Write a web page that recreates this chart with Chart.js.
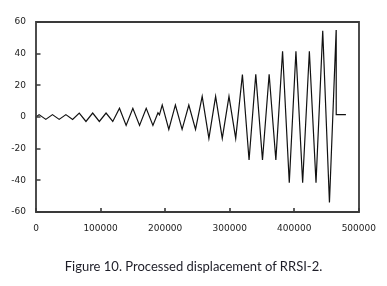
<!DOCTYPE html>
<html>
<head>
<meta charset="utf-8">
<script src="https://cdn.jsdelivr.net/npm/chart.js@4/dist/chart.umd.min.js"></script>
<style>
  html, body { margin: 0; padding: 0; background: #ffffff; }
  #wrap { position: relative; width: 387px; height: 286px; }
  #c { position: absolute; left: 0; top: 0; }
  #caption {
    position: absolute; left: 0; width: 387px; top: 258px;
    text-align: center; font-family: Lato, "Open Sans", sans-serif;
    font-size: 13px; color: #1e1e28; white-space: nowrap;
  }
</style>
</head>
<body>
<div id="wrap">
  <canvas id="c" width="387" height="286"></canvas>
  <div id="caption">Figure 10. Processed displacement of RRSI-2.</div>
</div>
<script>
// Time (x) of each turning point of the displacement record
const time = [
  0, 4800, 15200, 25500, 35900, 46300, 56700,
  67000, 77400, 87800, 98100, 108500, 118900,
  129300, 139600, 150000, 160400, 170700, 181100,
  188900, 191200,
  195500, 205700, 215900, 226300, 236700, 247100,
  257400, 267800, 278200, 288500, 298900, 309300,
  319700, 330000, 340400, 350800, 361100, 371500,
  381900, 392300, 402600, 413000, 423400, 433700,
  444100, 454500, 464900, 465000, 480000
];
// Displacement at each turning point
const displacement = [
  0, 1.5, -1.5, 1.5, -1.5, 1.5, -1.5,
  2.5, -2.8, 2.5, -2.8, 2.5, -2.8,
  5.5, -5.3, 5.5, -5.3, 5.5, -5.3,
  2.7, 1.3,
  7.6, -7.8, 7.6, -7.8, 7.6, -7.8,
  13, -13.5, 13, -13.5, 13, -13.5,
  26.8, -27.2, 27, -27.2, 27, -27.2,
  41.5, -41.5, 41.5, -41.5, 41.5, -41.5,
  54.5, -54, 55, 1.5, 1.5
];
const xTicks = [0, 100000, 200000, 300000, 400000, 500000];
const yTicks = [-60, -40, -20, 0, 20, 40, 60];

const points = time.map((t, i) => ({ x: t, y: displacement[i] }));

const framePlugin = {
  id: 'plotFrame',
  afterDraw(chart) {
    const ctx = chart.ctx;
    const a = chart.chartArea;
    const sx = chart.scales.x, sy = chart.scales.y;
    const L = Math.round(a.left), R = Math.round(a.right);
    const T = Math.round(a.top), B = Math.round(a.bottom);
    ctx.save();
    ctx.strokeStyle = '#3a3a3a';
    ctx.lineWidth = 1.8;
    ctx.lineCap = 'square';
    ctx.beginPath();
    ctx.moveTo(L, T); ctx.lineTo(R, T); ctx.lineTo(R, B); ctx.lineTo(L, B); ctx.closePath();
    ctx.stroke();
    ctx.lineCap = 'butt';
    ctx.lineWidth = 1.6;
    ctx.beginPath();
    for (const v of yTicks) {
      const y = Math.round(sy.getPixelForValue(v));
      ctx.moveTo(L, y); ctx.lineTo(L + 4.5, y);
    }
    for (const v of xTicks) {
      const x = Math.round(sx.getPixelForValue(v));
      ctx.moveTo(x, B); ctx.lineTo(x, B - 4);
    }
    ctx.stroke();
    ctx.restore();
  }
};

new Chart(document.getElementById('c'), {
  type: 'scatter',
  data: {
    datasets: [{
      data: points, showLine: true,
      borderColor: '#111111', borderWidth: 1.2, pointRadius: 0
    }]
  },
  options: {
    responsive: false, animation: false, devicePixelRatio: 1,
    layout: { padding: { left: 0, right: 28, top: 22, bottom: 44 } },
    plugins: { legend: { display: false }, tooltip: { enabled: false } },
    scales: {
      x: {
        type: 'linear', min: 0, max: 500000,
        afterBuildTicks: s => { s.ticks = xTicks.map(v => ({ value: v })); },
        afterFit: s => { s.height = 30; },
        grid: { display: false, drawTicks: false },
        border: { display: false },
        ticks: {
          padding: 11, maxRotation: 0, color: '#222222',
          font: { family: 'DejaVu Sans', size: 9 },
          callback: v => String(v)
        }
      },
      y: {
        type: 'linear', min: -60, max: 60,
        afterBuildTicks: s => { s.ticks = yTicks.map(v => ({ value: v })); },
        afterFit: s => { s.width = 36; },
        grid: { display: false, drawTicks: false },
        border: { display: false },
        ticks: {
          padding: 10, color: '#222222',
          font: { family: 'DejaVu Sans', size: 9 },
          callback: v => String(v)
        }
      }
    }
  },
  plugins: [framePlugin]
});
</script>
</body>
</html>
